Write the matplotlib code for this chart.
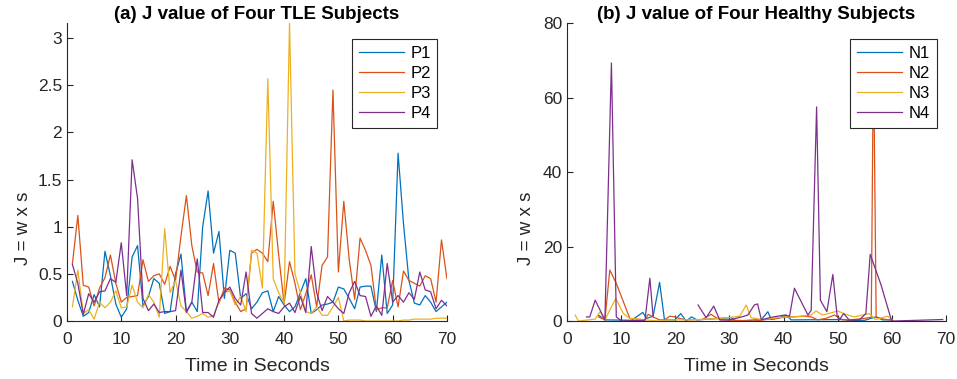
import numpy as np
import matplotlib
matplotlib.use('Agg')
import matplotlib.pyplot as plt

plt.rcParams['font.family'] = ['Liberation Sans', 'DejaVu Sans']

# colores por defecto de MATLAB
colores = ['#0072BD', '#D95319', '#EDB120', '#7E2F8E']

# ---- (a) sujetos TLE, una muestra por segundo ----
t_tle = np.arange(1, 71)

P1 = [0.42, 0.22, 0.05, 0.09, 0.28, 0.15, 0.74, 0.48, 0.18, 0.04,
      0.13, 0.68, 0.80, 0.16, 0.26, 0.45, 0.40, 0.08, 0.10, 0.50,
      0.71, 0.10, 0.20, 0.10, 1.00, 1.38, 0.72, 0.95, 0.24, 0.75,
      0.72, 0.24, 0.29, 0.13, 0.20, 0.30, 0.32, 0.10, 0.26, 0.17,
      0.10, 0.15, 0.30, 0.45, 0.08, 0.12, 0.17, 0.18, 0.20, 0.36,
      0.34, 0.24, 0.13, 0.36, 0.37, 0.37, 0.10, 0.70, 0.08, 0.17,
      1.78, 1.03, 0.43, 0.19, 0.17, 0.27, 0.20, 0.10, 0.15, 0.20]

P2 = [0.61, 1.12, 0.38, 0.36, 0.16, 0.35, 0.46, 0.70, 0.40, 0.20,
      0.25, 0.26, 0.27, 0.65, 0.42, 0.48, 0.50, 0.39, 0.58, 0.43,
      0.90, 1.33, 0.80, 0.52, 0.51, 0.27, 0.61, 0.19, 0.35, 0.33,
      0.20, 0.10, 0.13, 0.72, 0.76, 0.72, 0.63, 1.27, 0.70, 0.18,
      0.63, 0.40, 0.12, 0.29, 0.49, 0.15, 0.59, 0.68, 2.45, 0.52,
      1.27, 0.65, 0.23, 0.88, 0.75, 0.59, 0.12, 0.14, 0.14, 0.43,
      0.15, 0.53, 0.43, 0.40, 0.37, 0.48, 0.45, 0.20, 0.86, 0.45]

P3 = [0.15, 0.54, 0.08, 0.12, 0.02, 0.20, 0.14, 0.20, 0.32, 0.14,
      0.15, 0.38, 0.20, 0.14, 0.28, 0.20, 0.04, 0.98, 0.30, 0.43,
      0.16, 0.10, 0.03, 0.05, 0.08, 0.04, 0.06, 0.20, 0.30, 0.32,
      0.17, 0.26, 0.10, 0.75, 0.72, 0.35, 2.57, 0.45, 0.30, 0.19,
      3.16, 0.50, 0.30, 0.10, 0.08, 0.15, 0.06, 0.06, 0.15, 0.25,
      0.00, 0.01, 0.01, 0.01, 0.00, 0.00, 0.00, 0.00, 0.00, 0.00,
      0.00, 0.01, 0.01, 0.02, 0.02, 0.02, 0.02, 0.03, 0.03, 0.03]

P4 = [0.60, 0.40, 0.07, 0.29, 0.20, 0.31, 0.32, 0.45, 0.41, 0.83,
      0.27, 1.71, 1.30, 0.24, 0.11, 0.18, 0.09, 0.10, 0.10, 0.11,
      0.54, 0.09, 0.20, 0.66, 0.09, 0.09, 0.04, 0.22, 0.30, 0.36,
      0.24, 0.17, 0.52, 0.08, 0.03, 0.08, 0.13, 0.10, 0.08, 0.15,
      0.19, 0.09, 0.26, 0.09, 0.79, 0.30, 0.11, 0.26, 0.20, 0.13,
      0.08, 0.30, 0.42, 0.27, 0.26, 0.05, 0.16, 0.06, 0.61, 0.20,
      0.27, 0.20, 0.30, 0.23, 0.52, 0.33, 0.31, 0.13, 0.22, 0.16]

# ---- (b) sujetos sanos, tiempos irregulares (nan = hueco) ----
N1_t = [5.8, 7.0, 11.9, 14.0, 14.7, 15.9, 17.1, 18.0, 19.9, 21.0, 22.0, 23.0, 24.0,
        30.3, 31.2, 35.9, 37.1, 37.7, 38.9, 40.5, 41.4, 51.2, 52.0, 55.0, 57.0, 58.3, 59.8]
N1_j = [1.6, 0.3, 0.2, 2.3, 0.7, 1.3, 10.4, 0.3, 0.3, 2.0, 0.0, 1.1, 0.3,
        0.9, 0.0, 0.4, 2.5, 0.4, 0.7, 1.6, 0.3, 0.4, 0.1, 0.2, 1.1, 0.3, 0.3]

N2_t = [5.8, 7.0, 7.9, 9.1, 11.6, 14.4, 15.0, 15.9, 17.1, 18.0, 19.0, 19.9, 20.8, 22.0,
        25.0, 26.6, 27.5, 28.5, 34.6, 40.2, 43.9, 45.1, 46.3, 47.8, 49.4, 50.9, 52.4,
        54.9, 56.2, 56.6, 57.1, 58.5, 60.0]
N2_j = [1.1, 0.3, 13.7, 10.1, 0.7, 0.3, 1.8, 1.1, 0.3, 0.3, 1.3, 1.1, 0.7, 0.3,
        0.4, 1.8, 0.9, 0.3, 0.0, 1.0, 1.3, 1.1, 0.3, 0.7, 1.6, 0.3, 0.3,
        0.7, 1.0, 74.0, 1.1, 0.5, 0.2]

N3_t = [1.5, 2.1, 5.2, 6.1, 7.0, 9.0, 10.4, 11.6, 14.4, 17.1, 18.7, 22.0, 26.0, 29.0,
        31.9, 33.1, 34.0, 35.9, 40.2, 42.0, 45.1, 46.0, 47.2, 48.8, 50.0, 51.5, 53.0,
        55.8, 57.0, 59.2, 60.1]
N3_j = [1.6, 0.0, 0.5, 2.5, 0.3, 6.1, 2.0, 0.7, 0.3, 0.0, 0.3, 0.3, 0.5, 0.8,
        1.3, 4.3, 0.9, 0.4, 1.1, 1.1, 1.6, 2.7, 1.6, 2.2, 2.7, 1.8, 1.1,
        2.0, 0.4, 1.3, 0.3]

N4_t = [3.6, 4.2, 5.2, 7.0, 8.2, 9.1, 10.1, 14.4, 15.3, 15.9, np.nan, 24.2, 25.7, 27.1,
        28.2, 30.0, 32.0, 33.4, 34.6, 35.2, 35.9, 37.7, 40.2, 41.1, 42.0, 44.5, 45.1,
        46.1, 46.8, 48.0, 49.1, 49.9, 50.3, 51.1, 52.1, 54.0, 55.2, 56.0, 58.0, 59.9,
        60.3, 69.4]
N4_j = [1.1, 1.1, 5.6, 0.3, 69.3, 1.1, 0.0, 0.2, 11.5, 1.2, np.nan, 4.3, 0.9, 4.0,
        0.3, 0.3, 1.0, 1.6, 4.3, 4.6, 0.3, 1.0, 1.6, 1.3, 8.8, 1.6, 2.9,
        57.5, 5.6, 2.5, 12.5, 1.3, 0.3, 2.0, 0.3, 0.3, 2.0, 17.9, 9.7, 0.3,
        0.0, 0.4]

gris = '#262626'

fig = plt.figure(figsize=(9.57, 3.79), dpi=100)
ax1 = fig.add_axes([0.070, 0.153, 0.397, 0.786])
ax2 = fig.add_axes([0.5925, 0.153, 0.396, 0.786])

# panel (a)
for serie, nombre, c in zip([P1, P2, P3, P4], ['P1', 'P2', 'P3', 'P4'], colores):
    ax1.plot(t_tle, serie, color=c, lw=0.9, label=nombre)
ax1.set_xlim(0, 70)
ax1.set_ylim(0, 3.16)
ax1.set_yticks([0, 0.5, 1, 1.5, 2, 2.5, 3])
ax1.set_yticklabels(['0', '0.5', '1', '1.5', '2', '2.5', '3'])
ax1.set_title('(a) J value of Four TLE Subjects', fontsize=13.5, fontweight='bold', pad=3)

# panel (b)
for tt, jj, nombre, c in zip([N1_t, N2_t, N3_t, N4_t], [N1_j, N2_j, N3_j, N4_j],
                             ['N1', 'N2', 'N3', 'N4'], colores):
    ax2.plot(tt, jj, color=c, lw=0.9, label=nombre)
ax2.set_xlim(0, 70)
ax2.set_ylim(0, 80)
ax2.set_yticks([0, 20, 40, 60, 80])
ax2.set_title('(b) J value of Four Healthy Subjects', fontsize=13.5, fontweight='bold', pad=3)

for ax in (ax1, ax2):
    ax.set_xticks(range(0, 71, 10))
    ax.set_xlabel('Time in Seconds', fontsize=14, color=gris, labelpad=8)
    ax.set_ylabel('J = w x s', fontsize=13.5, color=gris)
    ax.spines['top'].set_visible(False)
    ax.spines['right'].set_visible(False)
    for s in ('left', 'bottom'):
        ax.spines[s].set_color(gris)
        ax.spines[s].set_linewidth(0.8)
    ax.tick_params(direction='in', length=4, width=0.8, colors=gris, labelsize=12.5)
    ax.tick_params(axis='x', pad=8)
    leg = ax.legend(loc='upper right', fontsize=12, fancybox=False, framealpha=1,
                    borderpad=0.4, labelspacing=0.3, handlelength=2.7,
                    handletextpad=0.4, borderaxespad=0,
                    bbox_to_anchor=(0.975, 0.946))
    leg.get_frame().set_edgecolor(gris)
    leg.get_frame().set_linewidth(0.8)

ax1.yaxis.set_label_coords(-0.092, 0.31)
ax2.yaxis.set_label_coords(-0.084, 0.31)

fig.savefig('out.png', dpi=100)
